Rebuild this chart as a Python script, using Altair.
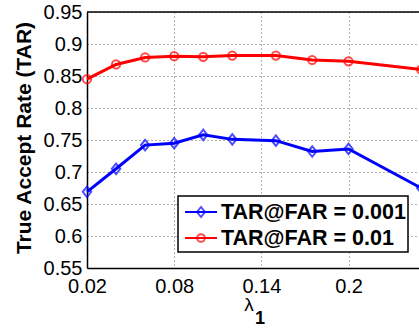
import altair as alt
import pandas as pd

# lambda_1 sweep and true-accept rates at two false-accept operating points
lam = [0.02, 0.04, 0.06, 0.08, 0.10, 0.12, 0.15, 0.175, 0.20, 0.25]
tar_far_001 = [0.669, 0.705, 0.742, 0.745, 0.758, 0.751, 0.749, 0.732, 0.736, 0.675]
tar_far_01 = [0.845, 0.868, 0.879, 0.881, 0.880, 0.882, 0.882, 0.875, 0.873, 0.860]
series_names = ["TAR@FAR = 0.001", "TAR@FAR = 0.01"]
series_colors = ["#0000ff", "#ff0000"]
x_ticks = [0.02, 0.08, 0.14, 0.2]
y_ticks = [0.55, 0.6, 0.65, 0.7, 0.75, 0.8, 0.85, 0.9, 0.95]

W, H = 332, 256
FONT = "Liberation Sans"
# tall open diamond, path in the [-1, 1] unit box
DIAMOND = "M0,-1L0.8,0L0,1L-0.8,0Z"

x_enc = alt.X(
    "lam:Q",
    scale=alt.Scale(domain=[0.02, 0.2485], nice=False, zero=False),
    axis=alt.Axis(values=x_ticks, format=".2~f", title=None, labelPadding=8,
                  labelFlush=False, labelOverlap=False),
)
y_enc = alt.Y(
    "tar:Q",
    scale=alt.Scale(domain=[0.55, 0.95], nice=False, zero=False),
    axis=alt.Axis(values=y_ticks, format=".2~f", title=None, labelPadding=5,
                  labelFlush=False, labelOverlap=False),
)


def series_layers(values, color, shape, size):
    df = pd.DataFrame({"lam": lam, "tar": values})
    base = alt.Chart(df).encode(x=x_enc, y=y_enc)
    line = base.mark_line(color=color, strokeWidth=3, clip=False)
    pts = base.mark_point(
        color=color, shape=shape, size=size, filled=False, strokeWidth=2, clip=False
    )
    return [line, pts]


one = pd.DataFrame({"k": [0]})

top_border = alt.Chart(one).mark_rule(color="black", strokeWidth=1.5).encode(
    x=alt.value(0), x2=alt.value(W), y=alt.value(0)
)

# legend box
leg_box = alt.Chart(one).mark_rect(fill="white", stroke="black", strokeWidth=1.5).encode(
    x=alt.value(91), x2=alt.value(321), y=alt.value(184), y2=alt.value(240)
)
legend_layers = [leg_box]
for name, color, shape, size, ly in zip(
    series_names, series_colors, [DIAMOND, "circle"], [100, 60], [200, 226]
):
    legend_layers.append(
        alt.Chart(one).mark_rule(color=color, strokeWidth=2).encode(
            x=alt.value(98), x2=alt.value(130), y=alt.value(ly)
        )
    )
    legend_layers.append(
        alt.Chart(one).mark_point(
            color=color, shape=shape, size=size, filled=False, strokeWidth=2
        ).encode(x=alt.value(114), y=alt.value(ly))
    )
    legend_layers.append(
        alt.Chart(one).mark_text(
            text=name, font=FONT, fontSize=21.5, fontWeight="bold", align="left",
            baseline="middle", color="black",
        ).encode(x=alt.value(134), y=alt.value(ly + 1))
    )

y_title = alt.Chart(one).mark_text(
    text="True Accept Rate (TAR)", font=FONT, fontSize=21, fontWeight="bold",
    angle=270, align="center", baseline="middle", color="black",
).encode(x=alt.value(-62), y=alt.value(126))

x_title = alt.Chart(one).mark_text(
    text="λ", font=FONT, fontSize=19, align="center", baseline="alphabetic", color="black",
).encode(x=alt.value(162), y=alt.value(299))
x_sub = alt.Chart(one).mark_text(
    text="1", font=FONT, fontSize=18, fontWeight="bold", align="center",
    baseline="alphabetic", color="black",
).encode(x=alt.value(173), y=alt.value(312))

layers = (
    series_layers(tar_far_01, series_colors[1], "circle", 68)
    + series_layers(tar_far_001, series_colors[0], DIAMOND, 110)
    + [top_border]
    + legend_layers
    + [y_title, x_title, x_sub]
)

chart = (
    alt.layer(*layers)
    .properties(
        width=W,
        height=H,
        autosize=alt.AutoSizeParams(type="none"),
        padding={"left": 87, "top": 12, "right": 0, "bottom": 61},
        background="white",
    )
    .configure_view(stroke=None)
    .configure_axis(
        domainColor="black",
        domainWidth=1.5,
        grid=True,
        gridColor="#666666",
        gridDash=[1, 3],
        gridWidth=1,
        ticks=False,
        labelFont=FONT,
        labelFontSize=20,
        labelColor="black",
    )
)

chart.save("out.html", embed_options={"renderer": "svg", "actions": False})
